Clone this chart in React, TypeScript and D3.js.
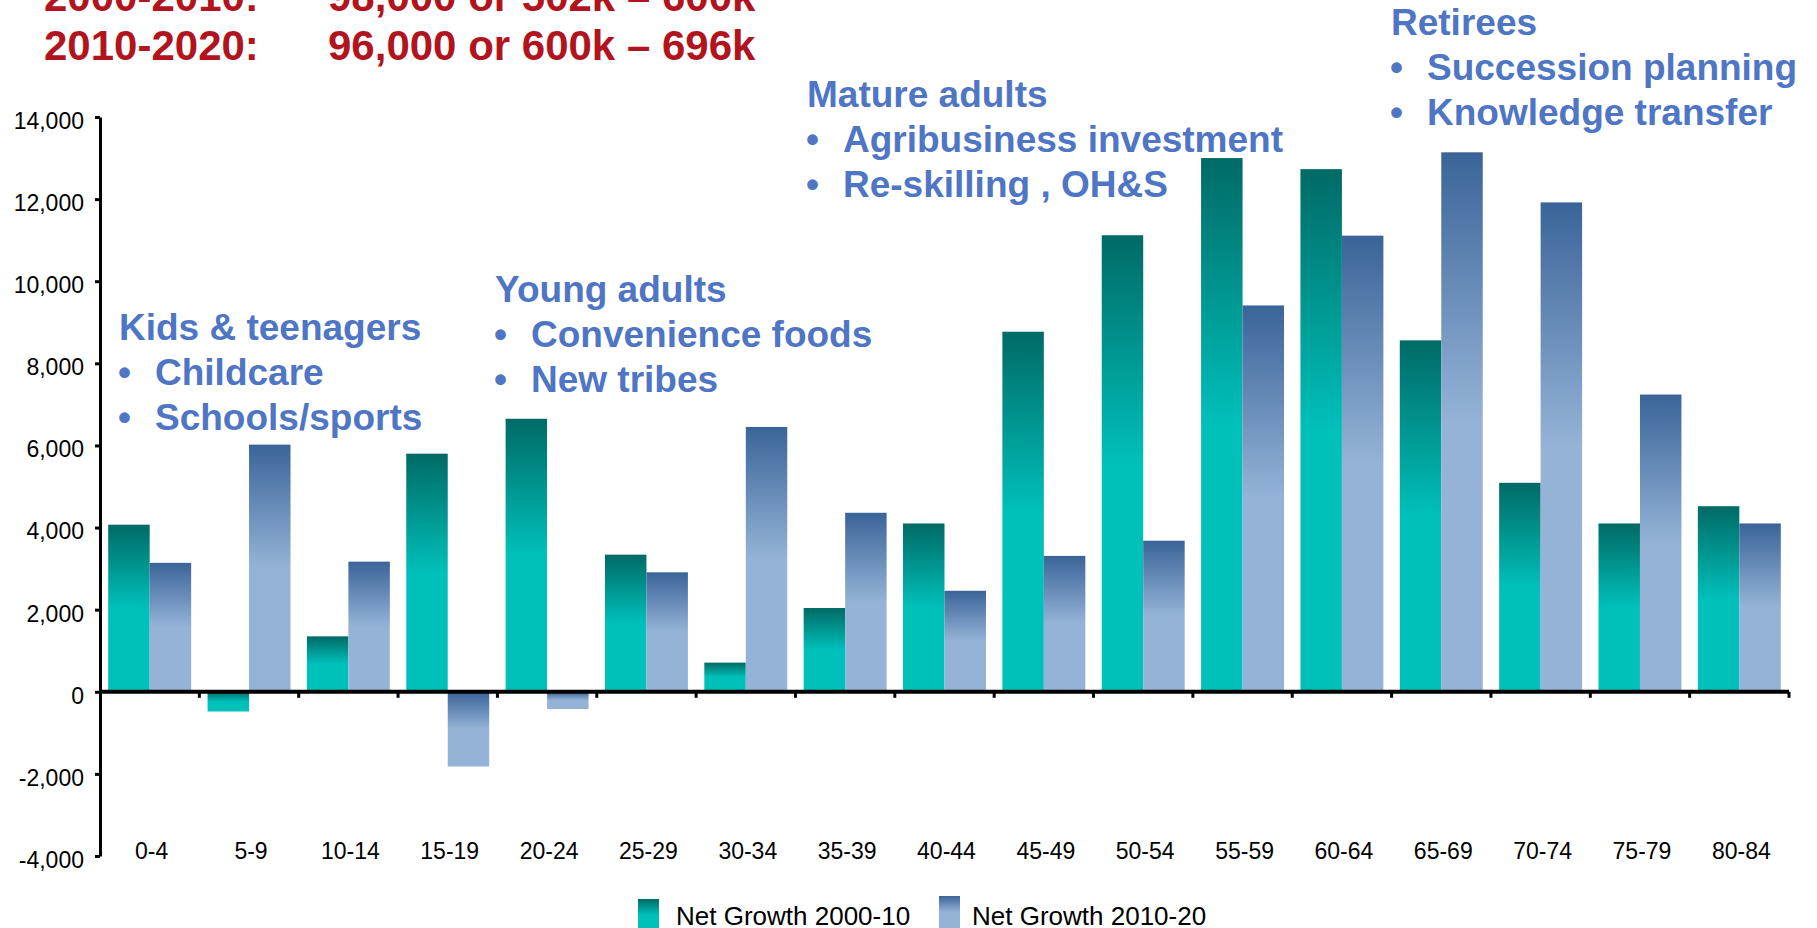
import * as d3 from 'd3';
import React, { useRef, useEffect } from 'react';

const categories = ['0-4', '5-9', '10-14', '15-19', '20-24', '25-29', '30-34', '35-39', '40-44',
  '45-49', '50-54', '55-59', '60-64', '65-69', '70-74', '75-79', '80-84'];
const growth2000 = [4070, -480, 1350, 5800, 6650, 3340, 710, 2040, 4100, 8770, 11120, 13000, 12730, 8560, 5090, 4100, 4520];
const growth2010 = [3140, 6020, 3170, -1820, -420, 2910, 6450, 4360, 2460, 3310, 3680, 9410, 11110, 13140, 11920, 7240, 4100];
const seriesNames = ['Net Growth 2000-10', 'Net Growth 2010-20'];
const yTicks = [-4000, -2000, 0, 2000, 4000, 6000, 8000, 10000, 12000, 14000];

const titleLines = [
  ['2000-2010:', '98,000 or 502k \u2013 600k'],
  ['2010-2020:', '96,000 or 600k \u2013 696k'],
];

const notes = [
  { head: 'Kids & teenagers', items: ['Childcare', 'Schools/sports'], x: 119, y: 340 },
  { head: 'Young adults', items: ['Convenience foods', 'New tribes'], x: 495, y: 302 },
  { head: 'Mature adults', items: ['Agribusiness investment', 'Re-skilling , OH&S'], x: 807, y: 107 },
  { head: 'Retirees', items: ['Succession planning', 'Knowledge transfer'], x: 1391, y: 35 },
];

const W = 1817;
const H = 928;
const font = '"Liberation Sans", Arial, sans-serif';

const App = () => {
  const ref = useRef(null);

  useEffect(() => {
    const svg = d3.select(ref.current);
    svg.selectAll('*').remove();

    const defs = svg.append('defs');
    const grads = [
      { id: 'gTeal', dark: '#006A66', light: '#00C0BA' },
      { id: 'gBlue', dark: '#3A6498', light: '#95B3D7' },
    ];
    grads.forEach((g) => {
      const lg = defs.append('linearGradient')
        .attr('id', g.id)
        .attr('x1', 0).attr('y1', 0).attr('x2', 0).attr('y2', 1);
      lg.append('stop').attr('offset', 0).attr('stop-color', g.dark);
      lg.append('stop').attr('offset', 0.5).attr('stop-color', g.light);
      lg.append('stop').attr('offset', 1).attr('stop-color', g.light);
    });

    const y = d3.scaleLinear().domain([-4000, 14000]).range([856, 117]);
    const x = d3.scaleBand().domain(categories).range([100, 1789])
      .paddingInner(0.165).paddingOuter(0.0825);
    const step = x.step();
    const inner = d3.scaleBand().domain(['a', 'b']).range([0, x.bandwidth()]);

    // title (red, clipped at top)
    const title = svg.append('g')
      .attr('font-family', font)
      .attr('font-weight', 'bold')
      .attr('font-size', 42)
      .attr('fill', '#B2141E');
    titleLines.forEach((ln, i) => {
      const by = 11 + i * 49;
      title.append('text').attr('x', 44).attr('y', by).text(ln[0]);
      title.append('text').attr('x', 328).attr('y', by).text(ln[1]);
    });

    // bars
    const series = [
      { key: 'a', values: growth2000, fill: 'url(#gTeal)' },
      { key: 'b', values: growth2010, fill: 'url(#gBlue)' },
    ];
    series.forEach((s) => {
      svg.append('g').selectAll('rect')
        .data(s.values)
        .enter()
        .append('rect')
        .attr('x', (d, i) => x(categories[i]) + inner(s.key))
        .attr('y', (d) => y(Math.max(0, d)))
        .attr('width', inner.bandwidth())
        .attr('height', (d) => Math.abs(y(d) - y(0)))
        .attr('fill', s.fill);
    });

    // y axis
    const fmt = d3.format(',');
    const yAxis = d3.axisLeft(y)
      .tickValues(yTicks)
      .tickSize(5)
      .tickSizeOuter(0)
      .tickPadding(11)
      .tickFormat((d) => (d < 0 ? '-' + fmt(-d) : fmt(d)));
    const ga = svg.append('g')
      .attr('transform', 'translate(100,0)')
      .call(yAxis);
    ga.select('.domain').attr('stroke', '#000').attr('stroke-width', 3);
    ga.selectAll('.tick line').attr('stroke', '#000').attr('stroke-width', 3);
    ga.selectAll('.tick text')
      .attr('font-family', font)
      .attr('font-size', 23)
      .attr('y', 4)
      .attr('fill', '#000');

    // zero line + category ticks
    svg.append('line')
      .attr('x1', 100).attr('x2', 1789)
      .attr('y1', y(0)).attr('y2', y(0))
      .attr('stroke', '#000').attr('stroke-width', 4);
    svg.append('g').selectAll('line')
      .data(categories.slice(1).concat(['end']))
      .enter()
      .append('line')
      .attr('x1', (d, i) => 100 + step * (i + 1))
      .attr('x2', (d, i) => 100 + step * (i + 1))
      .attr('y1', y(0))
      .attr('y2', y(0) + 6)
      .attr('stroke', '#000')
      .attr('stroke-width', 3);

    // category labels
    svg.append('g').selectAll('text')
      .data(categories)
      .enter()
      .append('text')
      .attr('x', (d) => x(d) + x.bandwidth() / 2 + 2)
      .attr('y', 859)
      .attr('text-anchor', 'middle')
      .attr('font-family', font)
      .attr('font-size', 23)
      .attr('fill', '#000')
      .text((d) => d);

    // annotations
    notes.forEach((n) => {
      const g = svg.append('g')
        .attr('font-family', font)
        .attr('font-weight', 'bold')
        .attr('font-size', 37)
        .attr('fill', '#4F75C5');
      g.append('text').attr('x', n.x).attr('y', n.y).text(n.head);
      n.items.forEach((it, i) => {
        g.append('text').attr('x', n.x - 1).attr('y', n.y + 45 * (i + 1)).text('\u2022');
        g.append('text').attr('x', n.x + 36).attr('y', n.y + 45 * (i + 1)).text(it);
      });
    });

    // legend
    const legend = [
      { sx: 638, sy: 899, tx: 676, fill: 'url(#gTeal)' },
      { sx: 939, sy: 896, tx: 972, fill: 'url(#gBlue)' },
    ];
    legend.forEach((l, i) => {
      svg.append('rect')
        .attr('x', l.sx).attr('y', l.sy)
        .attr('width', 21).attr('height', 32)
        .attr('fill', l.fill);
      svg.append('text')
        .attr('x', l.tx).attr('y', 925)
        .attr('font-family', font)
        .attr('font-size', 26)
        .attr('fill', '#000')
        .text(seriesNames[i]);
    });
  }, []);

  return (
    <svg
      ref={ref}
      width={W}
      height={H}
      style={{ position: 'absolute', left: 0, top: 0, display: 'block', background: '#fff' }}
    />
  );
};

export default App;
